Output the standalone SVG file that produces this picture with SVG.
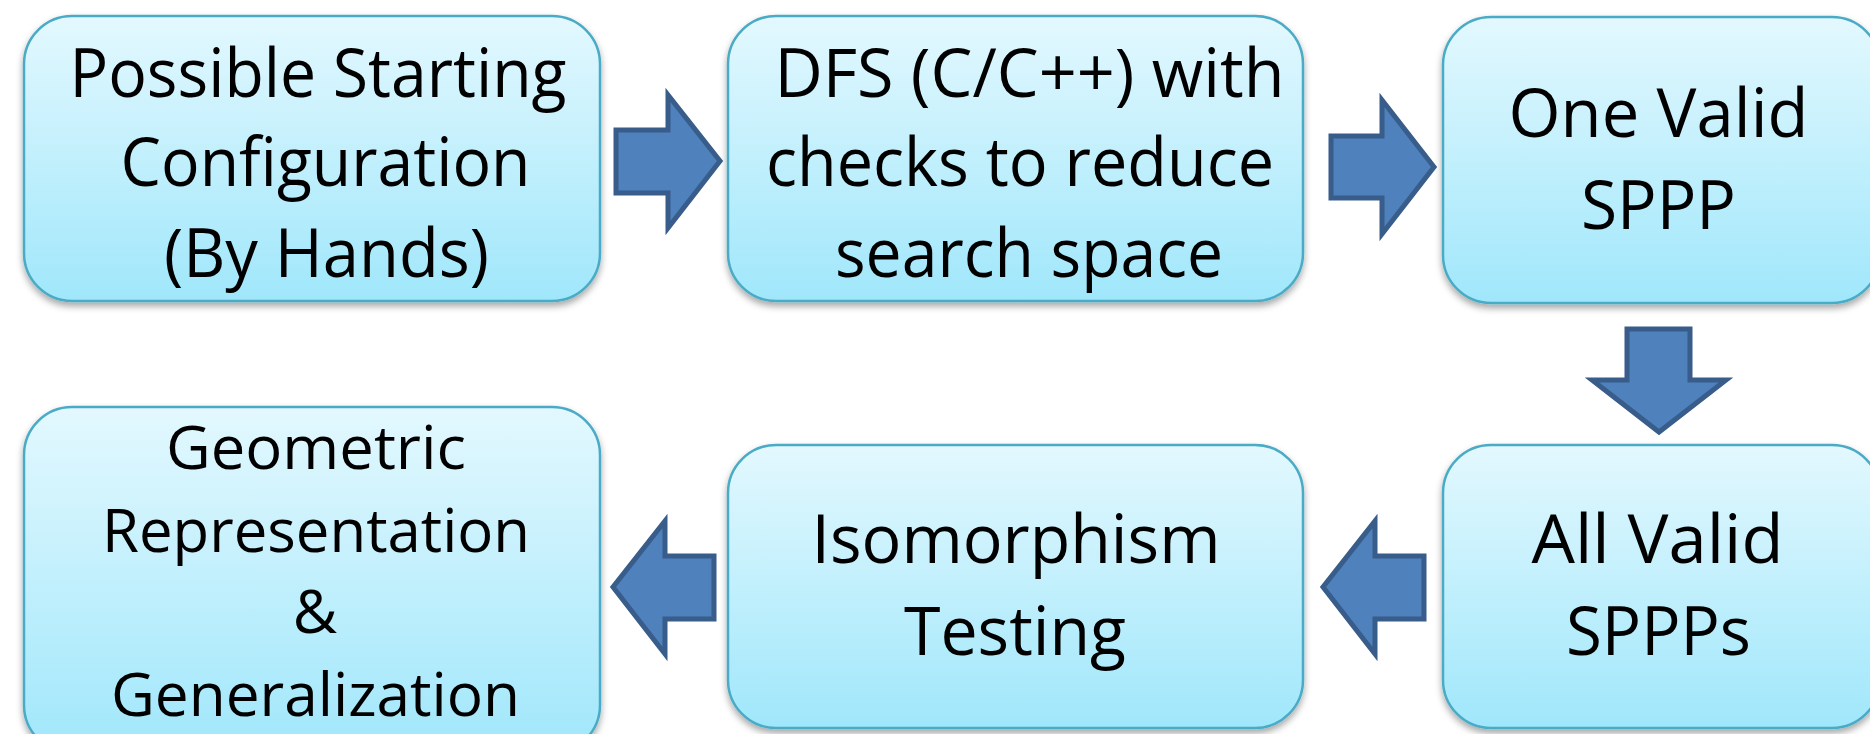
<svg xmlns="http://www.w3.org/2000/svg" width="1870" height="734" viewBox="0 0 1870 734">
  <defs>
    <linearGradient id="boxFill" x1="0" y1="0" x2="0" y2="1">
      <stop offset="0" stop-color="#E3F8FE"/>
      <stop offset="1" stop-color="#A0E7FB"/>
    </linearGradient>
    <filter id="shadow" x="-5%" y="-5%" width="110%" height="115%">
      <feDropShadow dx="0" dy="4" stdDeviation="3.5" flood-color="#000" flood-opacity="0.35"/>
    </filter>
  </defs>
  <style>
    .box { fill: url(#boxFill); stroke: #4AABC5; stroke-width: 2.5; filter: url(#shadow); }
    .lbl { font-family: "Open Sans", "Noto Sans", sans-serif; font-size: 67px; fill: #000; text-anchor: middle; }
    .tight { font-size: 61px; }
    .arrow { fill: #4F81BD; stroke: #385D8A; stroke-width: 5; stroke-linejoin: miter; }
  </style>
  <rect width="1870" height="734" fill="#FFFFFF"/>

  <g id="connectors">
    <path class="arrow" d="M616 130 L668 130 L668 95 L720 161 L668 228 L668 193 L616 193 Z"/>
    <path class="arrow" d="M1331 136 L1382 136 L1382 100 L1434 167 L1382 234 L1382 198 L1331 198 Z"/>
    <path class="arrow" d="M1627 329 L1690 329 L1690 380 L1726 380 L1659 432 L1592 380 L1627 380 Z"/>
    <path class="arrow" d="M1424 556 L1375 556 L1375 521 L1323 587 L1375 654 L1375 619 L1424 619 Z"/>
    <path class="arrow" d="M714 556 L665 556 L665 521 L613 587 L665 654 L665 619 L714 619 Z"/>
  </g>

  <g id="node-start">
    <rect class="box" x="24" y="16" width="576" height="285" rx="48" ry="48"/>
    <text class="lbl" x="318" y="97" textLength="497" lengthAdjust="spacingAndGlyphs">Possible Starting</text>
    <text class="lbl" x="325.5" y="186" textLength="410" lengthAdjust="spacingAndGlyphs">Configuration</text>
    <text class="lbl" x="326.5" y="277" textLength="325" lengthAdjust="spacingAndGlyphs">(By Hands)</text>
  </g>

  <g id="node-dfs">
    <rect class="box" x="728" y="16" width="575" height="285" rx="48" ry="48"/>
    <text class="lbl" x="1029.5" y="97" textLength="510" lengthAdjust="spacingAndGlyphs">DFS (C/C++) with</text>
    <text class="lbl" x="1020" y="186" textLength="508" lengthAdjust="spacingAndGlyphs">checks to reduce</text>
    <text class="lbl" x="1029" y="277" textLength="388" lengthAdjust="spacingAndGlyphs">search space</text>
  </g>

  <g id="node-one-valid">
    <rect class="box" x="1443" y="17" width="437" height="286" rx="48" ry="48"/>
    <text class="lbl" x="1658.5" y="137" textLength="300" lengthAdjust="spacingAndGlyphs">One Valid</text>
    <text class="lbl" x="1658.5" y="229" textLength="155" lengthAdjust="spacingAndGlyphs">SPPP</text>
  </g>

  <g id="node-all-valid">
    <rect class="box" x="1443" y="445" width="437" height="283" rx="48" ry="48"/>
    <text class="lbl" x="1657.5" y="563" textLength="252" lengthAdjust="spacingAndGlyphs">All Valid</text>
    <text class="lbl" x="1658.5" y="655" textLength="185" lengthAdjust="spacingAndGlyphs">SPPPs</text>
  </g>

  <g id="node-isomorphism">
    <rect class="box" x="728" y="445" width="575" height="283" rx="48" ry="48"/>
    <text class="lbl" x="1016" y="563" textLength="409" lengthAdjust="spacingAndGlyphs">Isomorphism</text>
    <text class="lbl" x="1015" y="655" textLength="222" lengthAdjust="spacingAndGlyphs">Testing</text>
  </g>

  <g id="node-geometric">
    <rect class="box" x="24" y="407" width="576" height="346" rx="48" ry="48"/>
    <text class="lbl tight" x="316" y="469" textLength="300" lengthAdjust="spacingAndGlyphs">Geometric</text>
    <text class="lbl tight" x="316" y="552" textLength="428" lengthAdjust="spacingAndGlyphs">Representation</text>
    <text class="lbl tight" x="315" y="633">&amp;</text>
    <text class="lbl tight" x="315.5" y="716" textLength="409" lengthAdjust="spacingAndGlyphs">Generalization</text>
  </g>
</svg>
